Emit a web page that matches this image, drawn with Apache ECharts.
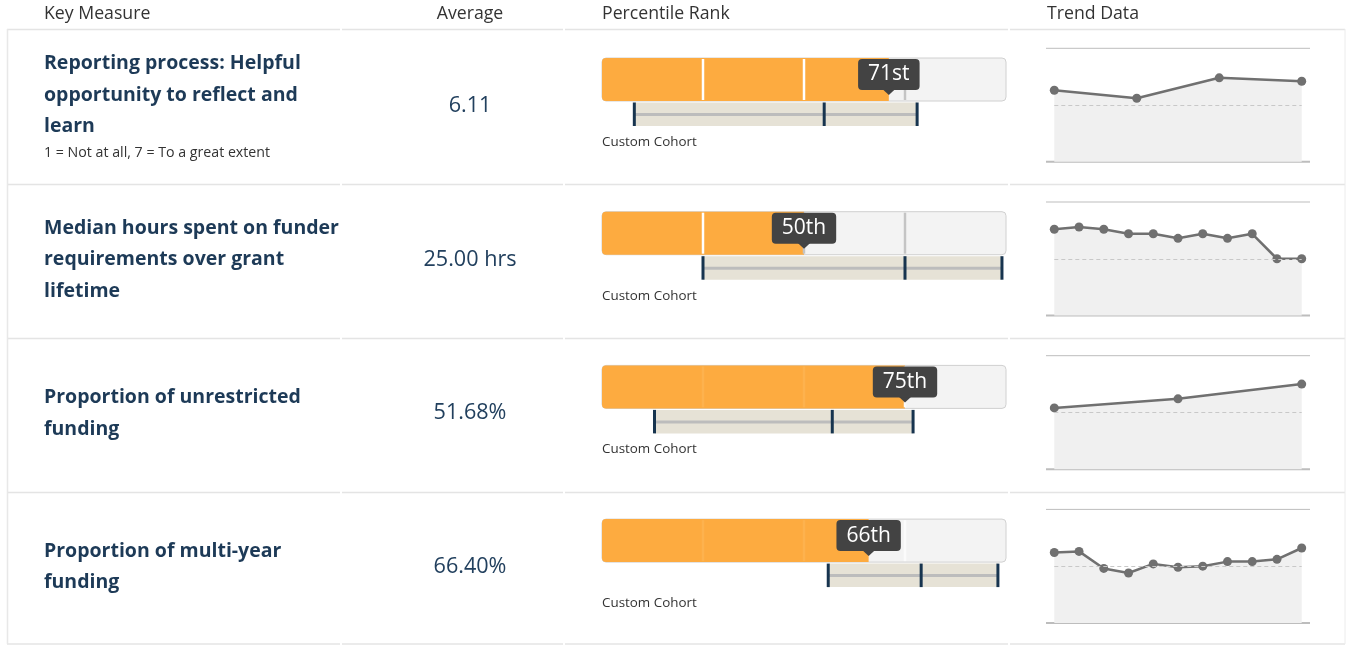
<!DOCTYPE html>
<html><head><meta charset="utf-8">
<script src="https://cdn.jsdelivr.net/npm/echarts@6/dist/echarts.min.js"></script>
<style>html,body{margin:0;padding:0;background:#fff}#c{width:1348px;height:645px}</style>
</head><body><div id="c"></div>
<script>
// ---------- data ----------
const headers = ['Key Measure', 'Average', 'Percentile Rank', 'Trend Data'];
const measureLines = [
  ['Reporting process: Helpful', 'opportunity to reflect and', 'learn'],
  ['Median hours spent on funder', 'requirements over grant', 'lifetime'],
  ['Proportion of unrestricted', 'funding'],
  ['Proportion of multi-year', 'funding']
];
const scaleNotes = ['1 = Not at all, 7 = To a great extent', '', '', ''];
const averages = ['6.11', '25.00 hrs', '51.68%', '66.40%'];
const percentiles = [71, 50, 75, 66];
const rankLabels = ['71st', '50th', '75th', '66th'];
const cohortMin = [8, 25, 13, 56];
const cohortMedian = [55, 75, 57, 79];
const cohortMax = [78, 99, 77, 98];
const quartiles = [25, 50, 75];
const cohortName = 'Custom Cohort';
const trendMedian = 50;
const trend1 = [63, 56, 74, 71];
const trend2 = [76, 78, 76, 72, 72, 68, 72, 68, 72, 50, 50];
const trend3 = [54, 62, 75];
const trend4 = [62, 63, 48, 44, 52, 49, 50, 54, 54, 56, 66];
const trendPeriods1 = ['P1', 'P2', 'P3', 'P4'];
const trendPeriods2 = ['P1', 'P2', 'P3', 'P4', 'P5', 'P6', 'P7', 'P8', 'P9', 'P10', 'P11'];
const trendPeriods3 = ['P1', 'P2', 'P3'];
const trendPeriods4 = ['P1', 'P2', 'P3', 'P4', 'P5', 'P6', 'P7', 'P8', 'P9', 'P10', 'P11'];
const trends = [trend1, trend2, trend3, trend4];
const trendPeriods = [trendPeriods1, trendPeriods2, trendPeriods3, trendPeriods4];

// ---------- layout ----------
const FONT = "'Open Sans', 'Noto Sans', sans-serif";
const NAVY = '#1d3a57';
const ROW_STEP = 153.7;
const rowTops = [29, 184, 338, 492];
const cols = [[7, 340], [342, 563], [565, 1008], [1010, 1345]];
const sepStyles = [
  { inside: '#ffffff', outside: '#c4c4c4' },
  { inside: '#ffffff', outside: '#c4c4c4' },
  { inside: '#fdb24e', outside: '#fbfbfb' },
  { inside: '#fdb24e', outside: '#fbfbfb' }
];

const chart = echarts.init(document.getElementById('c'), null, { renderer: 'canvas' });

const graphics = [];
// header
const headerPos = [[44, 'left'], [470, 'center'], [602, 'left'], [1047, 'left']];
headers.forEach((h, i) => {
  graphics.push({ type: 'text', x: headerPos[i][0], y: 14,
    style: { text: h, font: '17.7px ' + FONT, fill: '#333', align: headerPos[i][1], verticalAlign: 'middle' } });
});
// cell borders
for (let r = 0; r < 4; r++) {
  cols.forEach(c => {
    graphics.push({ type: 'line', shape: { x1: c[0], y1: rowTops[r] + 0.5, x2: c[1], y2: rowTops[r] + 0.5 },
      style: { stroke: '#e4e4e4', lineWidth: 1.5 }, silent: true });
  });
}
cols.forEach(c => {
  graphics.push({ type: 'line', shape: { x1: c[0], y1: 644, x2: c[1], y2: 644 },
    style: { stroke: '#e4e4e4', lineWidth: 1.5 }, silent: true });
});
graphics.push({ type: 'line', shape: { x1: 7.5, y1: 29, x2: 7.5, y2: 644 }, style: { stroke: '#e8e8e8', lineWidth: 1.5 } });
graphics.push({ type: 'line', shape: { x1: 1345, y1: 29, x2: 1345, y2: 644 }, style: { stroke: '#ececec', lineWidth: 1 } });

// left texts and averages
for (let r = 0; r < 4; r++) {
  const c = 105.8 + ROW_STEP * r;
  const main = r === 0 ? c - 10.5 : c;
  graphics.push({ type: 'text', x: 44, y: main,
    style: { text: measureLines[r].join('\n'), font: 'bold 19.5px ' + FONT, fill: NAVY,
      lineHeight: 31.5, align: 'left', verticalAlign: 'middle' } });
  if (scaleNotes[r]) {
    graphics.push({ type: 'text', x: 44, y: c + 47,
      style: { text: scaleNotes[r], font: '14.2px ' + FONT, fill: '#333', align: 'left', verticalAlign: 'middle' } });
  }
  graphics.push({ type: 'text', x: 470, y: c,
    style: { text: averages[r], font: '21.6px ' + FONT, fill: '#22405e', align: 'center', verticalAlign: 'middle' } });
  graphics.push({ type: 'text', x: 602, y: 142 + ROW_STEP * r,
    style: { text: cohortName, font: '13.4px ' + FONT, fill: '#333', align: 'left', verticalAlign: 'middle' } });
  // trend rules
  const tt = 48.3 + ROW_STEP * r;
  graphics.push({ type: 'line', shape: { x1: 1046, y1: tt, x2: 1310, y2: tt }, style: { stroke: '#bdbdbd', lineWidth: 1 } });
  graphics.push({ type: 'line', shape: { x1: 1046, y1: tt + 113.5, x2: 1310, y2: tt + 113.5 }, style: { stroke: '#bdbdbd', lineWidth: 2 } });
}

const grids = [], xAxes = [], yAxes = [], series = [];
for (let r = 0; r < 4; r++) {
  // percentile grid
  grids.push({ left: 602, width: 404, top: 58 + ROW_STEP * r, height: 43 });
  xAxes.push({ gridIndex: grids.length - 1, type: 'value', min: 0, max: 100, show: false });
  yAxes.push({ gridIndex: grids.length - 1, type: 'value', min: 0, max: 1, show: false });
  const pIdx = grids.length - 1;
  const sep = sepStyles[r];
  series.push({
    type: 'custom', xAxisIndex: pIdx, yAxisIndex: pIdx, silent: true, clip: false,
    data: [[percentiles[r], cohortMin[r], cohortMedian[r], cohortMax[r], r]],
    renderItem: function (params, api) {
      const p = api.value(0), mn = api.value(1), md = api.value(2), mx = api.value(3);
      const idx = api.value(4);
      const tl = api.coord([0, 1]);
      const br = api.coord([100, 0]);
      const x0 = tl[0], yT = tl[1], x1 = br[0], yB = br[1];
      const xp = api.coord([p, 0])[0];
      const h = yB - yT;
      const ch = [];
      ch.push({ type: 'rect', shape: { x: x0, y: yT, width: x1 - x0, height: h, r: 4 },
        style: { fill: '#f3f3f3', stroke: '#d0d0d0', lineWidth: 1 } });
      ch.push({ type: 'rect', shape: { x: x0, y: yT, width: xp - x0, height: h, r: [4, 0, 0, 4] },
        style: { fill: '#fdab40' } });
      quartiles.forEach(q => {
        const xq = api.coord([q, 0])[0];
        ch.push({ type: 'line', shape: { x1: xq, y1: yT + 1, x2: xq, y2: yB - 1 },
          style: { stroke: q < p ? sep.inside : sep.outside, lineWidth: 2.5 } });
      });
      const xmn = api.coord([mn, 0])[0], xmd = api.coord([md, 0])[0], xmx = api.coord([mx, 0])[0];
      ch.push({ type: 'rect', shape: { x: xmn, y: yB + 1.5, width: xmx - xmn, height: 23.5 },
        style: { fill: '#e6e2d6' } });
      ch.push({ type: 'line', shape: { x1: xmn, y1: yB + 13.5, x2: xmx, y2: yB + 13.5 },
        style: { stroke: '#bcbcbc', lineWidth: 3 } });
      [xmn, xmd, xmx].forEach(xx => {
        ch.push({ type: 'line', shape: { x1: xx, y1: yB + 1.5, x2: xx, y2: yB + 25 },
          style: { stroke: '#17344f', lineWidth: 3 } });
      });
      ch.push({ type: 'polygon', shape: { points: [[xp - 6.5, yT + 31], [xp + 6.5, yT + 31], [xp, yT + 37]] },
        style: { fill: '#434343' } });
      ch.push({ type: 'text', x: xp, y: yT + 1,
        style: { text: rankLabels[idx], font: '21px ' + FONT, fill: '#ffffff', align: 'center', verticalAlign: 'top',
          backgroundColor: '#434343', padding: [3, 10, 3, 10], borderRadius: 4, lineHeight: 25 } });
      return { type: 'group', children: ch };
    }
  });
  // trend grid
  grids.push({ left: 1054.3, right: 46.3, top: 48.3 + ROW_STEP * r, height: 113.5 });
  const tIdx = grids.length - 1;
  xAxes.push({ gridIndex: tIdx, type: 'category', boundaryGap: false, data: trendPeriods[r], show: false });
  yAxes.push({ gridIndex: tIdx, type: 'value', min: 0, max: 100, show: false });
  series.push({
    type: 'line', xAxisIndex: tIdx, yAxisIndex: tIdx, data: trends[r], silent: true,
    symbol: 'circle', symbolSize: 9, animation: false,
    lineStyle: { color: '#707070', width: 2.5 },
    itemStyle: { color: '#707070' },
    areaStyle: { color: '#f0f0f0', opacity: 1 },
    markLine: { silent: true, symbol: 'none', label: { show: false },
      lineStyle: { color: '#c8c8c8', type: [4, 3], width: 1 },
      data: [{ yAxis: trendMedian }] }
  });
}

chart.setOption({
  animation: false,
  grid: grids, xAxis: xAxes, yAxis: yAxes, series: series,
  graphic: { elements: graphics }
});
</script>
</body></html>
